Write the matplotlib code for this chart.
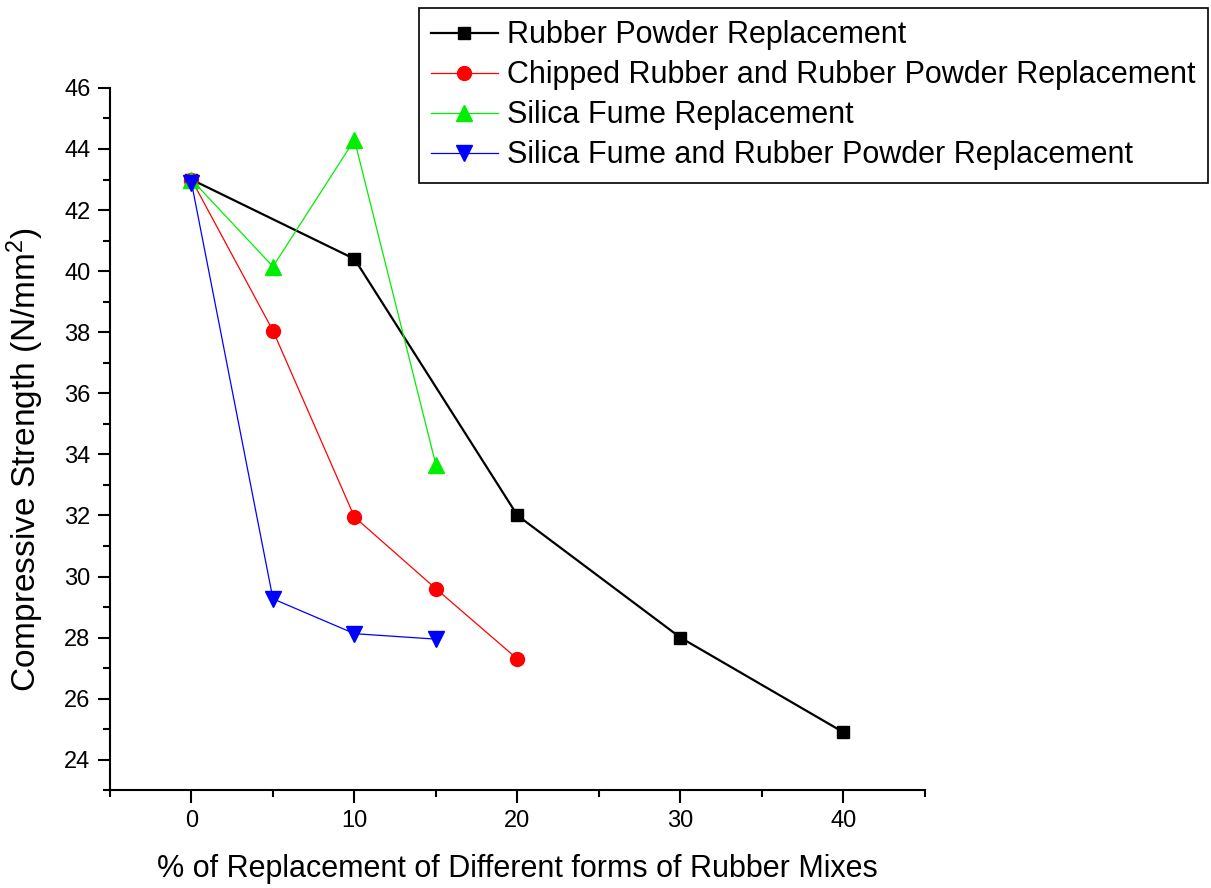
import numpy as np
import matplotlib
matplotlib.use("Agg")
import matplotlib.pyplot as plt
from matplotlib.ticker import MultipleLocator

plt.rcParams['font.family'] = ['Liberation Sans', 'DejaVu Sans']
plt.rcParams['mathtext.default'] = 'regular'

# % replacement and compressive strength (N/mm^2)
x_rp = [0, 10, 20, 30, 40]
y_rp = [43.0, 40.4, 32.0, 28.0, 24.9]

x_cr = [0, 5, 10, 15, 20]
y_cr = [43.0, 38.05, 31.95, 29.6, 27.3]

x_sf = [0, 5, 10, 15]
y_sf = [43.0, 40.15, 44.3, 33.65]

x_sfrp = [0, 5, 10, 15]
y_sfrp = [42.9, 29.27, 28.13, 27.95]

labels = ["Rubber Powder Replacement",
          "Chipped Rubber and Rubber Powder Replacement",
          "Silica Fume Replacement",
          "Silica Fume and Rubber Powder Replacement"]

fig = plt.figure(figsize=(12.11, 8.88), dpi=100)
ax = fig.add_axes([0.0908, 0.110, 0.673, 0.791])

ax.plot(x_rp, y_rp, color='black', lw=1.6, marker='s', ms=9, label=labels[0])
ax.plot(x_cr, y_cr, color='red', lw=0.9, marker='o', ms=10, label=labels[1])
ax.plot(x_sf, y_sf, color='#00ee00', lw=0.9, marker='^', ms=11, label=labels[2])
ax.plot(x_sfrp, y_sfrp, color='blue', lw=0.9, marker='v', ms=11, label=labels[3])

ax.set_xlim(-5, 45)
ax.set_ylim(23, 46)
ax.xaxis.set_major_locator(MultipleLocator(10))
ax.xaxis.set_minor_locator(MultipleLocator(5))
ax.yaxis.set_major_locator(MultipleLocator(2))
ax.yaxis.set_minor_locator(MultipleLocator(1))

for s in ['top', 'right']:
    ax.spines[s].set_visible(False)
for s in ['left', 'bottom']:
    ax.spines[s].set_linewidth(1.5)

ax.tick_params(which='major', direction='out', length=9, width=1.5, labelsize=17, pad=5)
ax.tick_params(which='minor', direction='out', length=5, width=1.5)

ax.set_xlabel("% of Replacement of Different forms of Rubber Mixes", fontsize=22, labelpad=16)
ax.set_ylabel("Compressive Strength (N/mm$^2$)", fontsize=24)
ax.yaxis.set_label_coords(-0.079, 0.4715)

leg = fig.legend(loc='upper right', bbox_to_anchor=(0.9975, 0.991), fontsize=22,
                 numpoints=1, handlelength=2.2, fancybox=False, framealpha=1,
                 edgecolor='black', borderpad=0.4, labelspacing=0.33, handletextpad=0.3,
                 borderaxespad=0)
leg.get_frame().set_linewidth(1.2)

fig.savefig("out.png", dpi=100)
